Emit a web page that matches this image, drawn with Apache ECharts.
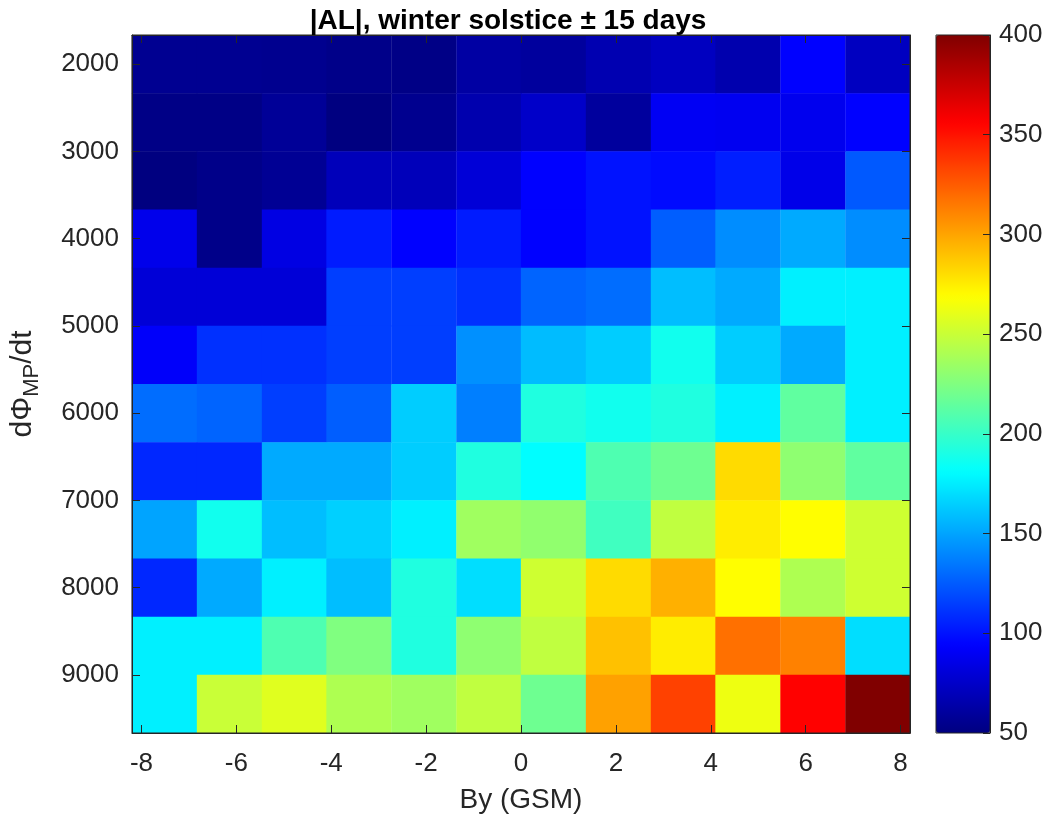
<!DOCTYPE html>
<html>
<head>
<meta charset="utf-8">
<script src="https://cdn.jsdelivr.net/npm/echarts@6/dist/echarts.min.js"></script>
<style>
  html, body { margin: 0; padding: 0; background: #fff; }
  #main { width: 1047px; height: 821px; }
</style>
</head>
<body>
<div id="main"></div>
<script>
// bin centres
var byCenters = [-7.52, -6.15, -4.78, -3.42, -2.05, -0.68, 0.68, 2.05, 3.42, 4.78, 6.15, 7.52];
var phiCenters = [2000, 2667, 3333, 4000, 4667, 5333, 6000, 6667, 7333, 8000, 8667, 9333];
// |AL| per row (top row = 2000), left to right in By
var alRows = [
  [56, 56, 55, 53, 52, 62, 60, 67, 72, 66, 94, 72],
  [52, 52, 58, 50, 55, 66, 75, 60, 90, 89, 88, 94],
  [50, 53, 57, 70, 70, 80, 94, 100, 97, 104, 86, 124],
  [87, 53, 84, 103, 94, 103, 94, 100, 126, 142, 152, 142],
  [80, 80, 80, 115, 115, 110, 128, 131, 159, 152, 176, 176],
  [92, 110, 110, 115, 115, 143, 158, 164, 187, 164, 152, 176],
  [131, 128, 115, 126, 164, 137, 192, 187, 192, 176, 214, 176],
  [107, 107, 152, 152, 164, 192, 181, 208, 219, 281, 230, 214],
  [150, 187, 159, 165, 176, 236, 231, 203, 247, 275, 269, 252],
  [107, 152, 176, 159, 192, 170, 252, 281, 296, 269, 241, 252],
  [176, 176, 208, 225, 192, 230, 247, 290, 275, 318, 312, 170],
  [176, 250, 258, 241, 236, 247, 219, 301, 334, 263, 356, 400]
];
var xTicks = [-8, -6, -4, -2, 0, 2, 4, 6, 8];
var yTicks = [2000, 3000, 4000, 5000, 6000, 7000, 8000, 9000];

var jet = ['#000080', '#0000ff', '#0080ff', '#00ffff', '#80ff80', '#ffff00', '#ff8000', '#ff0000', '#800000'];

var cells = [];
for (var r = 0; r < phiCenters.length; r++) {
  for (var c = 0; c < byCenters.length; c++) {
    cells.push([byCenters[c], phiCenters[r], alRows[r][c]]);
  }
}
var binW = 16.4 / 12, binH = 8000 / 12;

var font = 'Liberation Sans, Arial, Helvetica, sans-serif';
var ink = '#262626';
var plain = function (v) { return String(v); };

var chart = echarts.init(document.getElementById('main'));
var option = {
  animation: false,
  backgroundColor: '#fff',
  title: {
    text: '|AL|, winter solstice ± 15 days',
    left: 503, top: 2, textAlign: 'center',
    textStyle: { fontFamily: font, fontSize: 28, fontWeight: 'bold', color: '#000' }
  },
  grid: [
    { left: 132, top: 35, width: 778, height: 698, show: true, borderColor: ink, borderWidth: 1, z: 6 },
    { left: 936, top: 35, width: 54, height: 698, show: true, borderColor: ink, borderWidth: 1, z: 10 }
  ],
  visualMap: {
    type: 'continuous',
    min: 50, max: 400,
    dimension: 2,
    seriesIndex: 0,
    calculable: false,
    orient: 'vertical',
    left: 936, top: 35,
    padding: 0,
    itemWidth: 54, itemHeight: 698,
    inRange: { color: jet },
    hoverLink: false
  },
  xAxis: [
    {
      type: 'value', gridIndex: 0, position: 'bottom', min: -8.2, max: 8.2, z: 5,
      splitLine: { show: false },
      axisLine: { show: true, onZero: false, lineStyle: { color: ink } },
      axisTick: { show: true, inside: true, length: 8, customValues: xTicks, lineStyle: { color: ink } },
      axisLabel: { customValues: xTicks, formatter: plain, color: ink, fontFamily: font, fontSize: 26, margin: 18 },
      name: 'By (GSM)', nameLocation: 'middle', nameGap: 53,
      nameTextStyle: { color: ink, fontFamily: font, fontSize: 28 }
    },
    {
      type: 'value', gridIndex: 0, position: 'top', min: -8.2, max: 8.2, z: 5,
      splitLine: { show: false },
      axisLine: { show: true, onZero: false, lineStyle: { color: ink } },
      axisTick: { show: true, inside: true, length: 8, customValues: xTicks, lineStyle: { color: ink } },
      axisLabel: { show: false }
    },
    { type: 'value', gridIndex: 1, min: 0, max: 1, show: false }
  ],
  yAxis: [
    {
      type: 'value', gridIndex: 0, position: 'left', inverse: true, min: 1666.67, max: 9666.67, z: 5,
      splitLine: { show: false },
      axisLine: { show: true, onZero: false, lineStyle: { color: ink } },
      axisTick: { show: true, inside: true, length: 8, customValues: yTicks, lineStyle: { color: ink } },
      axisLabel: { customValues: yTicks, formatter: plain, color: ink, fontFamily: font, fontSize: 26, margin: 13 },
      name: '{a|dΦ}{s|MP}{a|/dt}', nameLocation: 'middle', nameRotate: 90, nameGap: 86,
      nameTextStyle: {
        color: ink, fontFamily: font, fontSize: 30,
        rich: {
          a: { color: ink, fontFamily: font, fontSize: 30, verticalAlign: 'top', lineHeight: 38 },
          s: { color: ink, fontFamily: font, fontSize: 22, verticalAlign: 'top', lineHeight: 38, padding: [13, 0, 0, 0] }
        }
      }
    },
    {
      type: 'value', gridIndex: 0, position: 'right', inverse: true, min: 1666.67, max: 9666.67, z: 5,
      splitLine: { show: false },
      axisLine: { show: true, onZero: false, lineStyle: { color: ink } },
      axisTick: { show: true, inside: true, length: 8, customValues: yTicks, lineStyle: { color: ink } },
      axisLabel: { show: false }
    },
    {
      type: 'value', gridIndex: 1, position: 'right', min: 50, max: 400, interval: 50, z: 10,
      splitLine: { show: false },
      axisLine: { show: true, onZero: false, lineStyle: { color: ink } },
      axisTick: { show: true, inside: true, length: 7, lineStyle: { color: ink } },
      axisLabel: { color: ink, fontFamily: font, fontSize: 26, margin: 9 }
    }
  ],
  series: [
    {
      type: 'custom',
      xAxisIndex: 0, yAxisIndex: 0,
      data: cells,
      encode: { x: 0, y: 1 },
      renderItem: function (params, api) {
        var p = api.coord([api.value(0), api.value(1)]);
        var s = api.size([binW, binH]);
        return {
          type: 'rect',
          shape: { x: p[0] - s[0] / 2, y: p[1] - s[1] / 2, width: s[0] + 0.5, height: s[1] + 0.5 },
          style: { fill: api.visual('color') }
        };
      }
    }
  ]
};
chart.setOption(option);
</script>
</body>
</html>
